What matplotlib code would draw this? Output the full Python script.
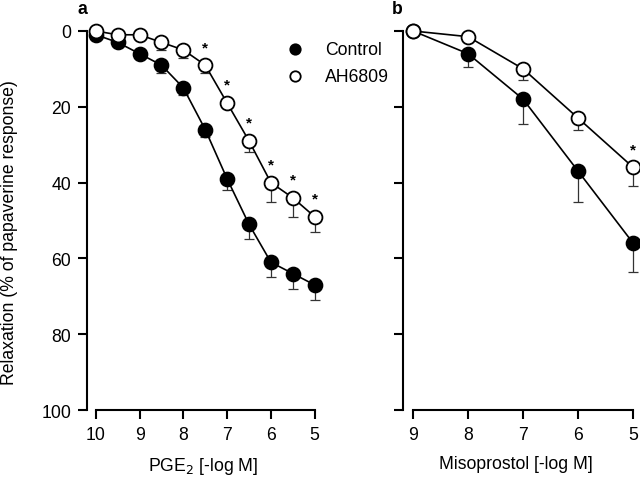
import numpy as np
import matplotlib
matplotlib.use("Agg")
import matplotlib.pyplot as plt

plt.rcParams["font.family"] = ["Liberation Sans", "DejaVu Sans"]

# panel a: PGE2
pge_x = [10, 9.5, 9, 8.5, 8, 7.5, 7, 6.5, 6, 5.5, 5]
pge_ctrl = [1, 3, 6, 9, 15, 26, 39, 51, 61, 64, 67]
pge_ctrl_err = [0.5, 0.5, 1, 2, 2, 2, 3, 4, 4, 4, 4]
pge_ah = [0, 1, 1, 3, 5, 9, 19, 29, 40, 44, 49]
pge_ah_err = [0.5, 0.5, 0.5, 2, 2, 2, 1, 3, 5, 5, 4]
pge_sig = [7.5, 7, 6.5, 6, 5.5, 5]

# panel b: misoprostol
miso_x = [9, 8, 7, 6, 5]
miso_ctrl = [0, 6, 18, 37, 56]
miso_ctrl_err = [0, 3.5, 6.5, 8, 7.5]
miso_ah = [0, 1.5, 10, 23, 36]
miso_ah_err = [0, 0.5, 3, 3, 5]
miso_sig = [5]

yticks = [0, 20, 40, 60, 80, 100]
FS = 12.7


def draw(ax, x, ctrl, ctrl_err, ah, ah_err, sig, xticks, xlim):
    for y, err, face in [(ctrl, ctrl_err, "black"), (ah, ah_err, "white")]:
        ax.errorbar(x, y, yerr=[np.zeros(len(err)), err], fmt="none",
                    ecolor="#333333", elinewidth=0.9, capsize=3.5,
                    capthick=0.9, zorder=2, clip_on=False)
        ax.plot(x, y, "-", color="black", lw=1.2, zorder=3, clip_on=False)
        ax.plot(x, y, "o", ms=10, mfc=face, mec="black", mew=1.3,
                zorder=4, clip_on=False)
    for xs in sig:
        ys = ah[x.index(xs)]
        ax.annotate("*", (xs, ys), xytext=(0, 8), textcoords="offset points",
                    ha="center", va="bottom", fontsize=11, fontweight="bold")
    ax.set_ylim(100, 0)
    ax.set_xlim(*xlim)
    ax.set_yticks(yticks)
    ax.set_xticks(xticks)
    ax.spines["top"].set_visible(False)
    ax.spines["right"].set_visible(False)
    ax.spines["left"].set_linewidth(1.5)
    ax.spines["bottom"].set_linewidth(1.5)
    ax.spines["bottom"].set_bounds(xticks[0], xticks[-1])
    ax.tick_params(width=1.5, length=6.5, labelsize=FS, pad=5)


fig = plt.figure(figsize=(6.4, 4.81), dpi=100)
ax1 = fig.add_axes([0.136, 0.1455, 0.3625, 0.788])
ax2 = fig.add_axes([0.629, 0.1455, 0.369, 0.788])

draw(ax1, pge_x, pge_ctrl, pge_ctrl_err, pge_ah, pge_ah_err, pge_sig,
     [10, 9, 8, 7, 6, 5], (10.2, 4.9))
draw(ax2, miso_x, miso_ctrl, miso_ctrl_err, miso_ah, miso_ah_err, miso_sig,
     [9, 8, 7, 6, 5], (9.19, 4.9))
ax2.set_yticklabels([])

ax1.set_ylabel("Relaxation (% of papaverine response)", fontsize=FS, labelpad=17)
ax1.yaxis.label.set_y(0.47)
ax1.set_xlabel("PGE$_2$ [-log M]", fontsize=FS, labelpad=9)
ax2.set_xlabel("Misoprostol [-log M]", fontsize=FS, labelpad=9)
ax2.xaxis.label.set_x(0.48)

# legend, drawn by hand in axes coordinates of panel a
legend_labels = ["Control", "AH6809"]
legend_faces = ["black", "white"]
for i, (lab, face) in enumerate(zip(legend_labels, legend_faces)):
    yy = 0.952 - i * 0.071
    ax1.plot([0.897], [yy], "o", ms=7.5, mfc=face, mec="black", mew=1.3,
             transform=ax1.transAxes, clip_on=False)
    ax1.text(1.026, yy, lab, transform=ax1.transAxes, fontsize=FS,
             ha="left", va="center")

fig.text(78 / 640, 1 - 9 / 481, "a", fontsize=FS, fontweight="bold",
         ha="left", va="center")
fig.text(392 / 640, 1 - 9 / 481, "b", fontsize=FS, fontweight="bold",
         ha="left", va="center")

fig.savefig("out.png", dpi=100)
